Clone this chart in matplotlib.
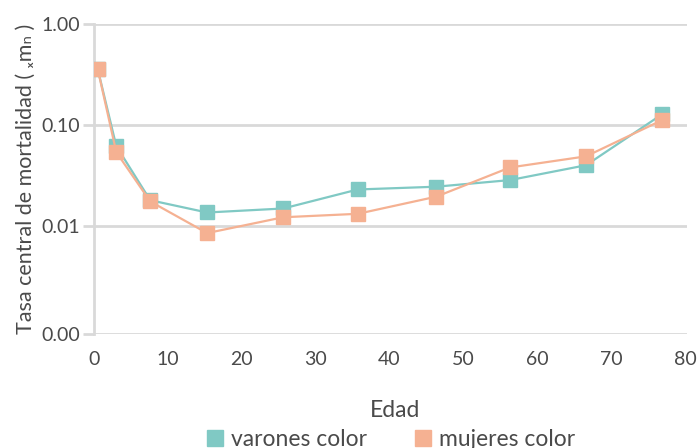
import matplotlib.pyplot as plt
from matplotlib.lines import Line2D
from matplotlib.ticker import FixedLocator, FixedFormatter

# datos (tasa central de mortalidad por edad)
edad = [0.5, 3, 7.6, 15.3, 25.6, 35.7, 46.3, 56.3, 66.6, 76.9]
varones = [0.357, 0.062, 0.018, 0.0136, 0.0149, 0.023, 0.0245, 0.0285, 0.040, 0.128]
mujeres = [0.357, 0.054, 0.0175, 0.0085, 0.0122, 0.0132, 0.0195, 0.038, 0.049, 0.112]
series_names = ["varones color", "mujeres color"]
y_min = 0.00085
y_ticks = [y_min, 0.01, 0.1, 1.0]
y_labels = ["0.00", "0.01", "0.10", "1.00"]
x_ticks = [0, 10, 20, 30, 40, 50, 60, 70, 80]

teal = "#80c9c4"
salmon = "#f5b192"
grid_c = "#d9d9d9"
text_c = "#4a4a4a"

plt.rcParams['font.family'] = ['Lato', 'DejaVu Sans']

fig = plt.figure(figsize=(6.97, 4.48), dpi=100)
ax = fig.add_axes([0.135, 0.2545, 0.851, 0.6915])

ax.plot(edad, varones, color=teal, lw=1.6, marker='s', ms=9.5, zorder=3)
ax.plot(edad, mujeres, color=salmon, lw=1.6, marker='s', ms=9.5, zorder=4)

ax.set_yscale('log')
ax.set_ylim(y_min, 1.0)
ax.set_xlim(0, 80.3)
ax.yaxis.set_major_locator(FixedLocator(y_ticks))
ax.yaxis.set_major_formatter(FixedFormatter(y_labels))
ax.yaxis.set_minor_locator(FixedLocator([]))
ax.set_xticks(x_ticks)

ax.grid(axis='y', color=grid_c, lw=2)
for s in ['top', 'right', 'bottom']:
    ax.spines[s].set_visible(False)
ax.spines['left'].set_color(grid_c)
ax.spines['left'].set_linewidth(2)
ax.tick_params(axis='y', length=8, width=2, color=grid_c, labelsize=14,
               labelcolor=text_c, pad=2)
ax.tick_params(axis='x', length=0, labelsize=14, labelcolor=text_c, pad=12)

ax.set_ylabel("Tasa central de mortalidad ( \u2093m\u2099 )", fontsize=15.5,
              color=text_c, labelpad=4)
fig.text(0.567, 0.083, "Edad", ha='center', va='center', fontsize=16.5, color=text_c)

handles = [Line2D([], [], color=teal, marker='s', ms=11, ls='none'),
           Line2D([], [], color=salmon, marker='s', ms=11, ls='none')]
fig.legend(handles, series_names, loc='center', bbox_to_anchor=(0.55, 0.02),
           ncol=2, frameon=False, fontsize=16.5, handletextpad=-0.3,
           columnspacing=1.45, labelcolor=text_c)

fig.savefig("out.png", dpi=100)
